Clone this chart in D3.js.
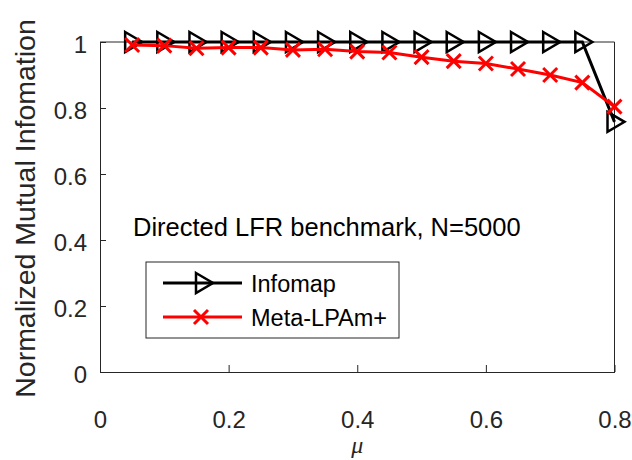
<!DOCTYPE html>
<html>
<head>
<meta charset="utf-8">
<script src="https://cdn.jsdelivr.net/npm/d3@7"></script>
<style>
  html, body { margin: 0; padding: 0; background: #fff; }
  svg { display: block; }
</style>
</head>
<body>
<svg id="chart" width="632" height="460"></svg>
<script>
const mu = [0.05, 0.10, 0.15, 0.20, 0.25, 0.30, 0.35, 0.40, 0.45, 0.50, 0.55, 0.60, 0.65, 0.70, 0.75, 0.80];
const infomap = [1, 1, 1, 1, 1, 1, 1, 1, 1, 1, 1, 1, 1, 1, 1, 0.758];
const metaLPAm = [0.991, 0.989, 0.981, 0.983, 0.983, 0.976, 0.978, 0.971, 0.968, 0.954, 0.942, 0.935, 0.918, 0.900, 0.877, 0.804];
const xTicks = [0, 0.2, 0.4, 0.6, 0.8];
const yTicks = [0, 0.2, 0.4, 0.6, 0.8, 1];
const seriesNames = ["Infomap", "Meta-LPAm+"];
const titleText = "Directed LFR benchmark, N=5000";
const yLabel = "Normalized Mutual Infomation";
const xLabel = "\u03BC";

const svg = d3.select("#chart");
const L = 100, R = 614.5, T = 42, B = 372;
const x = d3.scaleLinear().domain([0, 0.8]).range([L, R]);
const y = d3.scaleLinear().domain([0, 1]).range([B, T]);
const axisColor = "#262626";
const font = "'Liberation Sans', Arial, sans-serif";
const fmt = d3.format("~g");

// box top & right
svg.append("line").attr("x1", L).attr("x2", R).attr("y1", T).attr("y2", T)
  .attr("stroke", axisColor).attr("stroke-width", 1);
svg.append("line").attr("x1", R).attr("x2", R).attr("y1", T).attr("y2", B)
  .attr("stroke", axisColor).attr("stroke-width", 1);

// x axis
const gx = svg.append("g").attr("transform", `translate(0,${B})`)
  .call(d3.axisBottom(x).tickValues(xTicks).tickSizeInner(-7).tickSizeOuter(0)
    .tickFormat(fmt));
gx.select(".domain").attr("stroke", axisColor);
gx.selectAll(".tick line").attr("stroke", axisColor);
gx.selectAll(".tick text").attr("fill", axisColor).attr("font-family", font)
  .attr("font-size", 24).attr("y", 0).attr("dy", 0)
  .attr("transform", "translate(0,56)");

// y axis
const gy = svg.append("g").attr("transform", `translate(${L},0)`)
  .call(d3.axisLeft(y).tickValues(yTicks).tickSizeInner(-6).tickSizeOuter(0)
    .tickFormat(fmt));
gy.select(".domain").attr("stroke", axisColor);
gy.selectAll(".tick line").attr("stroke", axisColor);
gy.selectAll(".tick text").attr("fill", axisColor).attr("font-family", font)
  .attr("font-size", 24).attr("x", -13).attr("dy", 0)
  .attr("transform", "translate(0,10)");

// axis labels
svg.append("text").attr("transform", "translate(35,208.5) rotate(-90)")
  .attr("text-anchor", "middle").attr("font-family", font).attr("font-size", 28.5)
  .attr("fill", axisColor).text(yLabel);
svg.append("text").attr("x", x(0.4)).attr("y", 453)
  .attr("text-anchor", "middle").attr("font-family", "'Liberation Serif', 'Times New Roman', serif")
  .attr("font-style", "italic").attr("font-size", 24)
  .attr("fill", axisColor).text(xLabel);

// title annotation
svg.append("text").attr("x", 133).attr("y", 236).attr("font-family", font)
  .attr("font-size", 25.5).attr("fill", "#000").text(titleText);

const tri = (cx, cy) => `M${cx-7},${cy-10} L${cx+10},${cy} L${cx-7},${cy+10} Z`;
const cross = (cx, cy, s) => `M${cx-s},${cy-s} L${cx+s},${cy+s} M${cx-s},${cy+s} L${cx+s},${cy-s}`;

const line = d3.line().x(d => x(d[0])).y(d => y(d[1]));
const infoData = mu.map((m, i) => [m, infomap[i]]);
const metaData = mu.map((m, i) => [m, metaLPAm[i]]);

// Infomap
svg.append("path").attr("d", line(infoData)).attr("fill", "none")
  .attr("stroke", "#000").attr("stroke-width", 3);
svg.append("g").selectAll("path").data(infoData).join("path")
  .attr("d", d => tri(x(d[0]), y(d[1])))
  .attr("fill", "none").attr("stroke", "#000").attr("stroke-width", 2.5)
  .attr("stroke-linejoin", "miter");

// Meta-LPAm+
svg.append("path").attr("d", line(metaData)).attr("fill", "none")
  .attr("stroke", "#ff0000").attr("stroke-width", 3);
svg.append("g").selectAll("path").data(metaData).join("path")
  .attr("d", d => cross(x(d[0]), y(d[1]), 7))
  .attr("fill", "none").attr("stroke", "#ff0000").attr("stroke-width", 3);

// legend
const lg = svg.append("g");
lg.append("rect").attr("x", 146).attr("y", 262).attr("width", 253).attr("height", 76)
  .attr("fill", "#fff").attr("stroke", axisColor).attr("stroke-width", 1);
const rows = [283, 317];
lg.append("line").attr("x1", 163).attr("x2", 242).attr("y1", rows[0]).attr("y2", rows[0])
  .attr("stroke", "#000").attr("stroke-width", 3);
lg.append("path").attr("d", tri(203, rows[0])).attr("fill", "none")
  .attr("stroke", "#000").attr("stroke-width", 2.5);
lg.append("line").attr("x1", 163).attr("x2", 242).attr("y1", rows[1]).attr("y2", rows[1])
  .attr("stroke", "#ff0000").attr("stroke-width", 3);
lg.append("path").attr("d", cross(201, rows[1], 7)).attr("fill", "none")
  .attr("stroke", "#ff0000").attr("stroke-width", 3);
seriesNames.forEach((n, i) => {
  lg.append("text").attr("x", 251).attr("y", rows[i] + 8.5).attr("font-family", font)
    .attr("font-size", 23.5).attr("fill", "#000").text(n);
});
</script>
</body>
</html>
